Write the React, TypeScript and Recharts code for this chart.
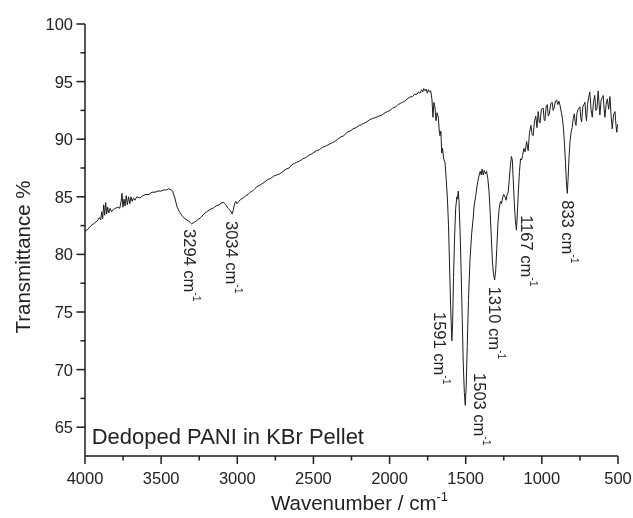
import React from "react";
import { LineChart, Line, XAxis, YAxis, ReferenceDot } from "recharts";

const FONT = '"Liberation Sans", Arial, sans-serif';
const INK = "#1c1c1c";

// FTIR spectrum (wavenumber cm-1 -> transmittance %)
const wavenumber = [
  4000, 3980, 3960, 3940, 3920, 3905, 3897, 3890, 3884, 3877, 3871, 3864, 3858, 3851, 3844, 3835, 3826, 3815,
  3800, 3785, 3772, 3763, 3757, 3751, 3744, 3737, 3729, 3722, 3714, 3706, 3698, 3690, 3682, 3672, 3660, 3640,
  3620, 3600, 3580, 3560, 3540, 3520, 3500, 3480, 3465, 3450, 3435, 3425, 3410, 3395, 3380, 3360, 3343, 3320,
  3300, 3280, 3260, 3240, 3220, 3200, 3180, 3160, 3140, 3120, 3100, 3088, 3075, 3060, 3045, 3034, 3025, 3018,
  3010, 3003, 2990, 2975, 2960, 2945, 2930, 2915, 2900, 2885, 2873, 2855, 2840, 2820, 2800, 2780, 2760, 2740,
  2720, 2700, 2680, 2660, 2640, 2625, 2610, 2590, 2570, 2550, 2530, 2515, 2503, 2480, 2460, 2440, 2420, 2405,
  2391, 2375, 2360, 2340, 2320, 2300, 2280, 2260, 2240, 2220, 2200, 2185, 2173, 2150, 2130, 2110, 2090, 2070,
  2050, 2030, 2015, 1997, 1980, 1960, 1945, 1930, 1915, 1900, 1885, 1866, 1850, 1835, 1820, 1810, 1800, 1790,
  1782, 1776, 1768, 1760, 1752, 1745, 1738, 1730, 1722, 1715, 1709, 1702, 1695, 1688, 1680, 1674, 1669, 1663,
  1658, 1652, 1645, 1636, 1628, 1620, 1613, 1606, 1599, 1591, 1586, 1580, 1573, 1566, 1558, 1554, 1549, 1544,
  1537, 1530, 1523, 1516, 1509, 1503, 1497, 1490, 1482, 1472, 1461, 1452, 1444, 1435, 1425, 1415, 1405, 1398,
  1393, 1385, 1378, 1370, 1363, 1355, 1347, 1340, 1332, 1325, 1318, 1310, 1303, 1296, 1288, 1280, 1272, 1265,
  1258, 1250, 1242, 1235, 1228, 1221, 1214, 1206, 1200, 1194, 1188, 1181, 1174, 1167, 1161, 1154, 1147, 1140,
  1133, 1126, 1118, 1110, 1100, 1090, 1081, 1072, 1064, 1057, 1048, 1040, 1032, 1024, 1017, 1012, 1003, 991,
  985, 980, 972, 964, 958, 951, 941, 932, 926, 920, 911, 903, 896, 888, 880, 872, 865, 858,
  851, 845, 839, 833, 828, 822, 815, 808, 801, 794, 787, 781, 776, 769, 761, 750, 744, 739,
  731, 724, 717, 712, 707, 700, 693, 685, 677, 669, 661, 653, 645, 638, 630, 624, 619, 611,
  604, 597, 591, 586, 578, 570, 561, 553, 545, 538, 529, 520, 513, 508, 503,
];

const transmittance = [
  82.0, 82.2, 82.5, 82.7, 82.9, 83.2, 83.0, 83.7, 83.1, 84.3, 83.4, 84.5, 83.5, 84.1, 83.6, 84.0, 83.7, 83.9,
  84.0, 84.1, 84.0, 84.6, 85.3, 84.1, 84.8, 84.2, 85.1, 84.3, 85.0, 84.4, 85.0, 84.6, 84.9, 84.7, 85.0, 84.9,
  85.1, 85.2, 85.2, 85.4, 85.4, 85.5, 85.5, 85.6, 85.6, 85.7, 85.6, 85.5, 84.9, 84.1, 83.7, 83.3, 83.1, 82.9,
  82.65, 82.8, 83.0, 83.2, 83.5, 83.7, 83.9, 84.0, 84.2, 84.3, 84.5, 84.5, 84.3, 84.0, 83.8, 83.5, 83.9, 84.4,
  84.6, 84.4, 84.6, 84.8, 84.9, 85.1, 85.2, 85.4, 85.5, 85.7, 85.85, 86.0, 86.1, 86.3, 86.5, 86.6, 86.8, 86.9,
  87.0, 87.2, 87.4, 87.5, 87.8, 87.9, 88.0, 88.1, 88.3, 88.4, 88.6, 88.7, 88.8, 89.0, 89.1, 89.3, 89.4, 89.5,
  89.6, 89.7, 89.8, 90.0, 90.2, 90.3, 90.6, 90.7, 90.9, 91.0, 91.2, 91.25, 91.35, 91.5, 91.7, 91.8, 91.9, 92.0,
  92.1, 92.3, 92.4, 92.5, 92.7, 92.8, 93.0, 93.1, 93.2, 93.3, 93.5, 93.66, 93.7, 93.9, 93.9, 94.1, 94.0, 94.3,
  94.1, 94.4, 94.2, 94.35, 94.0, 94.3, 94.1, 94.2, 93.5, 91.9, 93.2, 92.8, 91.6, 92.3, 91.9, 90.8, 90.3, 90.7,
  88.8, 89.2, 88.3, 88.0, 86.5, 84.8, 82.5, 79.0, 75.5, 72.5, 74.0, 78.0, 81.5, 84.0, 85.0, 84.8, 85.5, 84.6,
  82.0, 78.5, 74.5, 70.5, 68.0, 66.9, 68.5, 72.0, 76.0, 79.5, 81.8, 83.0, 84.3, 85.0, 86.0, 86.7, 87.2, 86.9,
  87.4, 86.9, 87.3, 87.0, 87.2, 86.6, 85.5, 83.8, 81.5, 79.5, 78.3, 77.8, 78.6, 80.5, 82.8, 84.0, 84.6, 84.4,
  84.9, 85.2, 85.0, 84.7, 85.2, 85.4, 86.5, 87.8, 88.5, 88.2, 86.5, 84.5, 83.0, 82.1, 83.5, 85.5, 87.2, 88.3,
  88.2, 88.6, 89.2, 88.9, 89.8, 89.0, 90.6, 91.2, 90.4, 90.3, 91.6, 92.0, 91.0, 92.4, 91.5, 91.4, 92.6, 92.7,
  91.7, 91.6, 92.8, 93.0, 92.0, 92.2, 93.1, 93.2, 92.5, 92.7, 93.3, 93.4, 93.0, 93.3, 92.9, 92.3, 91.8, 90.9,
  89.5, 88.0, 86.3, 85.3, 86.5, 88.3, 89.8, 90.6, 91.0, 91.8, 92.2, 91.5, 91.2, 92.3, 92.6, 92.8, 91.8, 91.5,
  92.8, 93.0, 93.2, 92.2, 91.6, 93.0, 93.6, 94.1, 92.6, 91.9, 93.2, 93.8, 92.5, 92.7, 94.2, 93.0, 92.1, 93.4,
  93.6, 93.8, 92.6, 91.9, 93.0, 93.5, 92.6, 93.7, 92.0, 90.9, 92.1, 92.4, 91.2, 90.6, 91.3,
];

const xTicks = [4000, 3750, 3500, 3250, 3000, 2750, 2500, 2250, 2000, 1750, 1500, 1250, 1000, 750, 500];
const yTicks = [65, 67.5, 70, 72.5, 75, 77.5, 80, 82.5, 85, 87.5, 90, 92.5, 95, 97.5, 100];

// peak annotations: label text, and where the label starts (data coords)
const peakNames = ["3294", "3034", "1591", "1503", "1310", "1167", "833"];
const peakLabelX = [3311, 3037, 1669, 1406, 1308, 1096, 827];
const peakLabelY = [82.2, 82.9, 75.0, 69.7, 77.2, 83.4, 84.7];

const spectrum = wavenumber.map((wn, i) => ({ wn, t: transmittance[i] }));

function XTick({ x, y, payload }: any) {
  const major = payload.value % 500 === 0;
  return (
    <g>
      <line x1={x} x2={x} y1={y} y2={y + (major ? 8 : 4.5)} stroke={INK} strokeWidth={1.5} />
      {major && (
        <text x={x} y={y + 28} textAnchor="middle" fontSize={16.5} fill="#222" fontFamily={FONT}>
          {payload.value}
        </text>
      )}
    </g>
  );
}

function YTick({ x, y, payload }: any) {
  const major = payload.value % 5 === 0;
  return (
    <g>
      <line x1={x} x2={x - (major ? 8.5 : 4.5)} y1={y} y2={y} stroke={INK} strokeWidth={1.5} />
      {major && (
        <text x={x - 12} y={y + 6} textAnchor="end" fontSize={16.5} fill="#222" fontFamily={FONT}>
          {payload.value}
        </text>
      )}
    </g>
  );
}

function PeakLabel({ cx, cy, name }: any) {
  if (cx == null || cy == null) return null;
  return (
    <text
      x={cx}
      y={cy}
      transform={`rotate(90 ${cx} ${cy})`}
      dominantBaseline="central"
      fontSize={16.5}
      fill="#222"
      fontFamily={FONT}
    >
      {name} cm<tspan dy={-7} fontSize={10.5}>-1</tspan>
    </text>
  );
}

export default function App() {
  // fixed so the page never grows a scrollbar that would eat the right edge
  return (
    <div style={{ position: "fixed", left: 8, top: 8, width: 625, height: 510 }}>
      <LineChart
        width={625}
        height={510}
        data={spectrum}
        margin={{ top: 16, right: 15, left: 0, bottom: 0 }}
        style={{ overflow: "visible" }}
      >
        <XAxis
          dataKey="wn"
          type="number"
          domain={[500, 4000]}
          reversed
          ticks={xTicks}
          interval={0}
          tickSize={0}
          tickMargin={0}
          tickLine={false}
          height={62}
          axisLine={{ stroke: INK, strokeWidth: 1.5 }}
          tick={<XTick />}
          allowDataOverflow
          label={(props: any) => {
            const vb = props.viewBox || { x: 77, y: 448, width: 533, height: 62 };
            const cx = vb.x + vb.width / 2 + 8;
            return (
              <text x={cx} y={vb.y + 54} textAnchor="middle" fontSize={20.5} fill="#222" fontFamily={FONT}>
                Wavenumber / cm<tspan dy={-9} fontSize={13}>-1</tspan>
              </text>
            );
          }}
        />
        <YAxis
          type="number"
          domain={[62.5, 100]}
          ticks={yTicks}
          interval={0}
          tickSize={0}
          tickMargin={0}
          tickLine={false}
          width={77}
          axisLine={{ stroke: INK, strokeWidth: 1.5 }}
          tick={<YTick />}
          allowDataOverflow
          label={() => (
            <text
              x={14}
              y={249}
              transform="rotate(-90 14 249)"
              textAnchor="middle"
              dominantBaseline="central"
              fontSize={20.5}
              fill="#222"
              fontFamily={FONT}
            >
              Transmittance %
            </text>
          )}
        />
        <Line
          type="linear"
          dataKey="t"
          stroke={INK}
          strokeWidth={1}
          dot={false}
          isAnimationActive={false}
        />
        {peakNames.map((name, i) => (
          <ReferenceDot
            key={name}
            x={peakLabelX[i]}
            y={peakLabelY[i]}
            r={0}
            shape={(p: any) => <PeakLabel cx={p.cx} cy={p.cy} name={name} />}
          />
        ))}
        <ReferenceDot
          x={3956}
          y={64.2}
          r={0}
          shape={(p: any) => (
            <text x={p.cx} y={p.cy} dominantBaseline="central" fontSize={22} fill="#222" fontFamily={FONT}>
              Dedoped PANI in KBr Pellet
            </text>
          )}
        />
      </LineChart>
    </div>
  );
}
